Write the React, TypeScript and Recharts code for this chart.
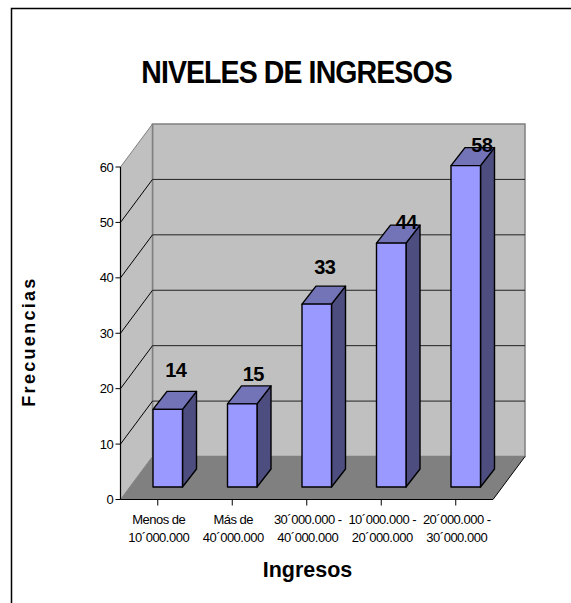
import React from 'react';
import { BarChart, Bar, XAxis, YAxis, LabelList, usePlotArea } from 'recharts';

const categories = ['Menos de|10´000.000', 'Más de|40´000.000', '30´000.000 -|40´000.000', '10´000.000 -|20´000.000', '20´000.000 -|30´000.000'];
const values = [14, 15, 33, 44, 58];
const yTicks = [0, 10, 20, 30, 40, 50, 60];
const labelNudgeX = [9, 12, 9, 16, 17];
const labelNudgeY = [-39, -30, -37, -21, -21];
const rows = categories.map((c, i) => ({ c, v: values[i], i }));

const W = 571, H = 603;
const DEPTH_X = 32, DEPTH_Y = 43;
const BAR_DX = 9.5, BAR_DY = 12.5, SIDE_X = 14, SIDE_Y = 18;

function Walls() {
  const p = usePlotArea();
  if (!p) return null;
  const { x, y, width, height } = p;
  const bottom = y + height, right = x + width;
  const yFor = (t: number) => bottom - (t / 60) * height;
  const bx = x + DEPTH_X, dy = DEPTH_Y;
  return (
    <g>
      <polygon points={`${bx},${y - dy} ${right + DEPTH_X},${y - dy} ${right + DEPTH_X},${bottom - dy} ${bx},${bottom - dy}`} fill="#c0c0c0" stroke="#808080" strokeWidth={1.5} />
      <polygon points={`${x},${y} ${bx},${y - dy} ${bx},${bottom - dy} ${x},${bottom}`} fill="#c0c0c0" stroke="#808080" strokeWidth={1} />
      <polygon points={`${x},${bottom} ${bx},${bottom - dy} ${right + DEPTH_X},${bottom - dy} ${right},${bottom}`} fill="#808080" stroke="none" />
      <line x1={bx} x2={bx} y1={y - dy} y2={bottom - dy} stroke="#808080" strokeWidth={1.5} />
      {yTicks.slice(1, -1).map(t => (
        <g key={t}>
          <line x1={x} y1={yFor(t)} x2={bx} y2={yFor(t) - dy} stroke="#000" strokeWidth={1} />
          <line x1={bx} y1={yFor(t) - dy} x2={right + DEPTH_X} y2={yFor(t) - dy} stroke="#222" strokeWidth={1} />
        </g>
      ))}
      <line x1={right} y1={bottom} x2={right + DEPTH_X} y2={bottom - dy} stroke="#000" strokeWidth={1} />
    </g>
  );
}

function Bar3D(props: any) {
  const x = props.x + BAR_DX, y = props.y - BAR_DY, w = props.width, h = props.height;
  const r = x + w, b = y + h;
  const st = { stroke: '#000', strokeWidth: 1.4, strokeLinejoin: 'round' as const };
  return (
    <g>
      <polygon points={`${r},${y} ${r + SIDE_X},${y - SIDE_Y} ${r + SIDE_X},${b - SIDE_Y} ${r},${b}`} fill="#4d4d80" {...st} />
      <polygon points={`${x},${y} ${x + SIDE_X},${y - SIDE_Y} ${r + SIDE_X},${y - SIDE_Y} ${r},${y}`} fill="#7373b8" {...st} />
      <rect x={x} y={y} width={w} height={h} fill="#9999ff" {...st} />
    </g>
  );
}

function ValueLabel(props: any) {
  const { x, y, width, index, value } = props;
  return (
    <text x={x + width / 2 + BAR_DX + labelNudgeX[index] - 1} y={y - BAR_DY + labelNudgeY[index] + 7}
      textAnchor="middle" fontFamily="Liberation Sans" fontWeight="bold" fontSize={20} letterSpacing={-0.5} fill="#000">{value}</text>
  );
}

function XTick(props: any) {
  const { x, y, payload } = props;
  const [a, b] = String(payload.value).split('|');
  return (
    <text textAnchor="middle" fontFamily="Liberation Sans" fontSize={13} letterSpacing={-0.5} fill="#000">
      <tspan x={x + 1} y={y + 16.5}>{a}</tspan>
      <tspan x={x + 1} y={y + 34.5}>{b}</tspan>
    </text>
  );
}

export default function App() {
  return (
    <div style={{ position: 'absolute', left: 0, top: 0, width: W, height: H, background: '#fff' }}>
      <BarChart width={W} height={H} data={rows} margin={{ top: 167, right: 78, bottom: 43.5, left: 60.5 }} barCategoryGap={0}>
        <Walls />
        <XAxis dataKey="c" interval={0} tick={<XTick />} tickLine={{ stroke: '#000' }} axisLine={{ stroke: '#000', strokeWidth: 1.2 }} tickSize={6} height={60} />
        <YAxis orientation="left" width={60} domain={[0, 60]} ticks={yTicks} interval={0} tickSize={5} tickMargin={2} axisLine={{ stroke: '#000', strokeWidth: 1.2 }} tickLine={{ stroke: '#000' }}
          tick={{ fontFamily: 'Liberation Sans', fontSize: 13, letterSpacing: -0.3, fill: '#000' }} />
        <Bar dataKey="v" barSize={29.5} shape={<Bar3D />} isAnimationActive={false}>
          <LabelList dataKey="v" content={<ValueLabel />} />
        </Bar>
        <text transform="translate(296.5,83) scale(0.89,1)" textAnchor="middle" fontFamily="Liberation Sans" fontWeight="bold" fontSize={32} letterSpacing={-1} fill="#000">NIVELES DE INGRESOS</text>
        <text x={307.5} y={577} textAnchor="middle" fontFamily="Liberation Sans" fontWeight="bold" fontSize={21.5} fill="#000">Ingresos</text>
        <text transform="translate(35,341.5) rotate(-90)" textAnchor="middle" fontFamily="Liberation Sans" fontWeight="bold" fontSize={18} letterSpacing={2.3} fill="#000">Frecuencias</text>
        <polyline points={`11.5,603 11.5,8.5 571,8.5`} fill="none" stroke="#000" strokeWidth={1.5} />
      </BarChart>
    </div>
  );
}
